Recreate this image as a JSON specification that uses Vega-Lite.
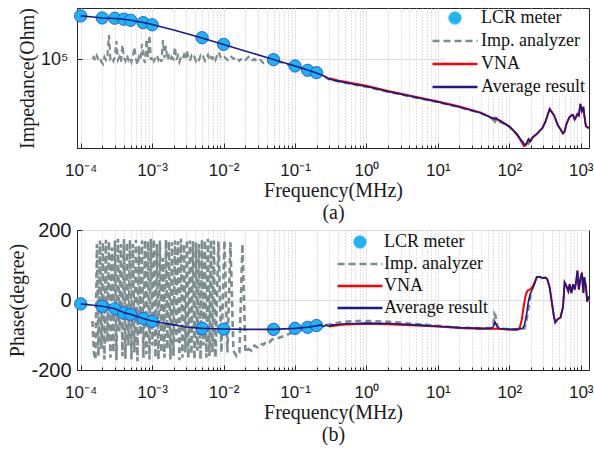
{
  "$schema": "https://vega.github.io/schema/vega-lite/v6.json",
  "padding": {"left": 7, "top": 6, "right": 0, "bottom": 0},
  "background": "white",
  "config": {
    "view": {"stroke": "#262626", "strokeWidth": 1},
    "axis": {"domainColor": "#262626", "labelColor": "#1a1a1a", "titleColor": "#1a1a1a", "labelFont": "Liberation Sans", "titleFont": "Liberation Serif", "titleFontWeight": "normal", "titleFontSize": 20}
  },
  "datasets": {
    "lcr": [
      {"f": 0.0001, "z": 271000, "p": -11},
      {"f": 0.0002, "z": 258500, "p": -18},
      {"f": 0.0003, "z": 257000, "p": -25},
      {"f": 0.0004, "z": 251000, "p": -37},
      {"f": 0.0005, "z": 245000, "p": -41},
      {"f": 0.00075, "z": 232000, "p": -53},
      {"f": 0.001, "z": 221000, "p": -61},
      {"f": 0.005, "z": 164000, "p": -81},
      {"f": 0.01, "z": 141000, "p": -83},
      {"f": 0.05, "z": 99000, "p": -84},
      {"f": 0.1, "z": 85700, "p": -81},
      {"f": 0.15, "z": 77600, "p": -78},
      {"f": 0.2, "z": 73500, "p": -73}
    ],
    "impz": [
      {"f": 0.0001459, "z": 100700}, {"f": 0.0001531, "z": 105400}, {"f": 0.0001607, "z": 96200}, {"f": 0.0001687, "z": 107900},
      {"f": 0.000177, "z": 98400}, {"f": 0.0001858, "z": 103000}, {"f": 0.000195, "z": 94000}, {"f": 0.0002047, "z": 89800},
      {"f": 0.0002148, "z": 105400}, {"f": 0.0002254, "z": 98400}, {"f": 0.0002366, "z": 107900}, {"f": 0.0002483, "z": 174800},
      {"f": 0.0002606, "z": 100700}, {"f": 0.0002735, "z": 105400}, {"f": 0.0002871, "z": 96200}, {"f": 0.0003013, "z": 107900},
      {"f": 0.0003162, "z": 152300}, {"f": 0.0003319, "z": 98400}, {"f": 0.0003483, "z": 105400}, {"f": 0.0003656, "z": 94000},
      {"f": 0.0003837, "z": 138900}, {"f": 0.0004027, "z": 103000}, {"f": 0.0004227, "z": 96200}, {"f": 0.0004436, "z": 110400},
      {"f": 0.0004656, "z": 98400}, {"f": 0.0004887, "z": 105400}, {"f": 0.0005129, "z": 94000}, {"f": 0.0005383, "z": 107900},
      {"f": 0.0005649, "z": 132700}, {"f": 0.0005929, "z": 100700}, {"f": 0.0006223, "z": 87700}, {"f": 0.0006531, "z": 105400},
      {"f": 0.0006855, "z": 98400}, {"f": 0.0007194, "z": 142100}, {"f": 0.0007551, "z": 103000}, {"f": 0.0007925, "z": 91800},
      {"f": 0.0008318, "z": 159500}, {"f": 0.000873, "z": 105400}, {"f": 0.0009162, "z": 174800}, {"f": 0.0009616, "z": 98400},
      {"f": 0.001009, "z": 107900}, {"f": 0.001059, "z": 96200}, {"f": 0.001112, "z": 103000}, {"f": 0.001167, "z": 110400},
      {"f": 0.001225, "z": 98400}, {"f": 0.001285, "z": 105400}, {"f": 0.001349, "z": 94000}, {"f": 0.001416, "z": 155800},
      {"f": 0.001486, "z": 103000}, {"f": 0.00156, "z": 135800}, {"f": 0.001637, "z": 98400}, {"f": 0.001718, "z": 107900},
      {"f": 0.001803, "z": 96200}, {"f": 0.001892, "z": 105400}, {"f": 0.001986, "z": 100700}, {"f": 0.002085, "z": 132700},
      {"f": 0.002188, "z": 98400}, {"f": 0.002296, "z": 107900}, {"f": 0.00241, "z": 94000}, {"f": 0.002529, "z": 105400},
      {"f": 0.002655, "z": 100700}, {"f": 0.002786, "z": 110400}, {"f": 0.002924, "z": 98400}, {"f": 0.003069, "z": 123900},
      {"f": 0.003221, "z": 103000}, {"f": 0.003381, "z": 96200}, {"f": 0.003548, "z": 107900}, {"f": 0.003724, "z": 100700},
      {"f": 0.003908, "z": 105400}, {"f": 0.004102, "z": 96200}, {"f": 0.004305, "z": 103000}, {"f": 0.004518, "z": 98400},
      {"f": 0.004742, "z": 107900}, {"f": 0.004977, "z": 100700}, {"f": 0.005224, "z": 105400}, {"f": 0.005483, "z": 96200},
      {"f": 0.005754, "z": 103000}, {"f": 0.006039, "z": 110400}, {"f": 0.006339, "z": 98400}, {"f": 0.006653, "z": 105400},
      {"f": 0.006982, "z": 100700}, {"f": 0.007328, "z": 107900}, {"f": 0.007691, "z": 98400},
      {"f": 0.008472, "z": 118300}, {"f": 0.009333, "z": 100700}, {"f": 0.01028, "z": 105400}, {"f": 0.01132, "z": 98400},
      {"f": 0.01247, "z": 107900}, {"f": 0.01374, "z": 100700}, {"f": 0.01514, "z": 105400}, {"f": 0.01667, "z": 96200},
      {"f": 0.01837, "z": 103000}, {"f": 0.02023, "z": 98400}, {"f": 0.02228, "z": 105400}, {"f": 0.02455, "z": 96200},
      {"f": 0.02704, "z": 100700}, {"f": 0.02979, "z": 94000}, {"f": 0.03281, "z": 98400}, {"f": 0.03614, "z": 91800},
      {"f": 0.03981, "z": 96200}, {"f": 0.04385, "z": 94000}, {"f": 0.04831, "z": 96200},
      {"f": 0.06, "z": 94000}, {"f": 0.08, "z": 88500}, {"f": 0.1, "z": 84500}, {"f": 0.13, "z": 80000},
      {"f": 0.15, "z": 77000}, {"f": 0.2, "z": 72200}, {"f": 0.25, "z": 67500}, {"f": 0.3, "z": 63000},
      {"f": 0.4, "z": 60000}, {"f": 0.5, "z": 58000}, {"f": 0.7, "z": 55500}, {"f": 1, "z": 53000},
      {"f": 2, "z": 47300}, {"f": 5, "z": 41200}, {"f": 10, "z": 37200}, {"f": 20, "z": 33100},
      {"f": 40, "z": 28900}, {"f": 55, "z": 26100}, {"f": 60, "z": 24500}, {"f": 62, "z": 27000},
      {"f": 64, "z": 24000}, {"f": 66, "z": 25000}, {"f": 70, "z": 24200}, {"f": 100, "z": 21200},
      {"f": 127, "z": 17800}, {"f": 150, "z": 15300}, {"f": 164, "z": 13800}, {"f": 175, "z": 13600},
      {"f": 185, "z": 14200}, {"f": 195, "z": 15000}, {"f": 205, "z": 16000}
    ],
    "impp": [
      {"f": 0.0001459, "p": -60}, {"f": 0.0001531, "p": -150}, {"f": 0.0001607, "p": -170}, {"f": 0.0001687, "p": 160},
      {"f": 0.000177, "p": -160}, {"f": 0.0001858, "p": 170}, {"f": 0.000195, "p": -140}, {"f": 0.0002047, "p": 165},
      {"f": 0.0002148, "p": -170}, {"f": 0.0002254, "p": 172}, {"f": 0.0002366, "p": -120}, {"f": 0.0002483, "p": 168},
      {"f": 0.0002606, "p": -165}, {"f": 0.0002735, "p": 150}, {"f": 0.0002871, "p": -150}, {"f": 0.0003013, "p": 170},
      {"f": 0.0003162, "p": -172}, {"f": 0.0003319, "p": 175}, {"f": 0.0003483, "p": -90}, {"f": 0.0003656, "p": 160},
      {"f": 0.0003837, "p": -160}, {"f": 0.0004027, "p": 174}, {"f": 0.0004227, "p": -168}, {"f": 0.0004436, "p": 165},
      {"f": 0.0004656, "p": -130}, {"f": 0.0004887, "p": 172}, {"f": 0.0005129, "p": -170}, {"f": 0.0005383, "p": 160},
      {"f": 0.0005649, "p": -150}, {"f": 0.0005929, "p": 172}, {"f": 0.0006223, "p": -175}, {"f": 0.0006531, "p": 155},
      {"f": 0.0006855, "p": -100}, {"f": 0.0007194, "p": 170}, {"f": 0.0007551, "p": -165}, {"f": 0.0007925, "p": 172},
      {"f": 0.0008318, "p": -155}, {"f": 0.000873, "p": 168}, {"f": 0.0009162, "p": -170}, {"f": 0.0009616, "p": 175},
      {"f": 0.001009, "p": -130}, {"f": 0.001059, "p": 174}, {"f": 0.001112, "p": -165}, {"f": 0.001167, "p": 160},
      {"f": 0.001225, "p": -170}, {"f": 0.001285, "p": 170}, {"f": 0.001349, "p": -150}, {"f": 0.001416, "p": 120},
      {"f": 0.001486, "p": -165}, {"f": 0.00156, "p": 172}, {"f": 0.001637, "p": -140}, {"f": 0.001718, "p": 168},
      {"f": 0.001803, "p": -170}, {"f": 0.001892, "p": 165}, {"f": 0.001986, "p": -160}, {"f": 0.002085, "p": 170},
      {"f": 0.002188, "p": -120}, {"f": 0.002296, "p": 168}, {"f": 0.00241, "p": -172}, {"f": 0.002529, "p": 175},
      {"f": 0.002655, "p": -165}, {"f": 0.002786, "p": 160}, {"f": 0.002924, "p": -150}, {"f": 0.003069, "p": 172},
      {"f": 0.003221, "p": -165}, {"f": 0.003381, "p": 170}, {"f": 0.003548, "p": -155}, {"f": 0.003724, "p": 168},
      {"f": 0.003908, "p": -170}, {"f": 0.004102, "p": 165}, {"f": 0.004305, "p": -145}, {"f": 0.004518, "p": 160},
      {"f": 0.004742, "p": -170}, {"f": 0.004977, "p": 172}, {"f": 0.005224, "p": -130}, {"f": 0.005483, "p": 170},
      {"f": 0.005754, "p": -165}, {"f": 0.006039, "p": 175}, {"f": 0.006339, "p": -160}, {"f": 0.006653, "p": 172},
      {"f": 0.006982, "p": -150}, {"f": 0.007328, "p": 170}, {"f": 0.007691, "p": -165},
      {"f": 0.008472, "p": 168}, {"f": 0.009333, "p": -150}, {"f": 0.01028, "p": 170}, {"f": 0.01132, "p": -150},
      {"f": 0.01247, "p": 165}, {"f": 0.01374, "p": -145}, {"f": 0.01514, "p": -160}, {"f": 0.01667, "p": -150},
      {"f": 0.01837, "p": 160}, {"f": 0.02023, "p": -150}, {"f": 0.02228, "p": -140}, {"f": 0.02455, "p": -145},
      {"f": 0.02704, "p": -130}, {"f": 0.02979, "p": -135}, {"f": 0.03281, "p": -125}, {"f": 0.03614, "p": -128},
      {"f": 0.03981, "p": -118}, {"f": 0.04385, "p": -120}, {"f": 0.04831, "p": -112},
      {"f": 0.06, "p": -108}, {"f": 0.08, "p": -98}, {"f": 0.1, "p": -90}, {"f": 0.13, "p": -84},
      {"f": 0.15, "p": -80}, {"f": 0.2, "p": -76}, {"f": 0.25, "p": -72}, {"f": 0.3, "p": -70},
      {"f": 0.4, "p": -65}, {"f": 0.5, "p": -62}, {"f": 0.7, "p": -60}, {"f": 1, "p": -60},
      {"f": 2, "p": -62}, {"f": 5, "p": -69}, {"f": 10, "p": -74}, {"f": 20, "p": -79},
      {"f": 40, "p": -81}, {"f": 55, "p": -80}, {"f": 60, "p": -70}, {"f": 62, "p": -40},
      {"f": 64, "p": -45}, {"f": 66, "p": -65}, {"f": 70, "p": -81}, {"f": 100, "p": -84},
      {"f": 127, "p": -84}, {"f": 150, "p": -84}, {"f": 164, "p": -80}, {"f": 175, "p": -55},
      {"f": 185, "p": -25}, {"f": 195, "p": 5}, {"f": 205, "p": 25}
    ],
    "vna": [
      {"f": 0.3, "z": 64800, "p": -76},
      {"f": 0.4, "z": 61500, "p": -72},
      {"f": 0.5, "z": 59600, "p": -70},
      {"f": 0.7, "z": 56900, "p": -69},
      {"f": 1, "z": 54300, "p": -68},
      {"f": 2, "z": 48300, "p": -69},
      {"f": 5, "z": 42000, "p": -73},
      {"f": 10, "z": 37900, "p": -76},
      {"f": 20, "z": 33700, "p": -80},
      {"f": 40, "z": 29300, "p": -82},
      {"f": 55, "z": 26300, "p": -82},
      {"f": 62, "z": 25500, "p": -82},
      {"f": 70, "z": 24800, "p": -82},
      {"f": 100, "z": 21400, "p": -84},
      {"f": 127, "z": 17900, "p": -84},
      {"f": 140, "z": 16000, "p": -80},
      {"f": 150, "z": 14800, "p": -55},
      {"f": 160, "z": 13600, "p": -15},
      {"f": 170, "z": 13800, "p": 15},
      {"f": 180, "z": 14800, "p": 27},
      {"f": 190, "z": 15800, "p": 28},
      {"f": 200, "z": 15300, "p": 32},
      {"f": 215, "z": 16700, "p": 40},
      {"f": 243, "z": 17950, "p": 66},
      {"f": 267, "z": 19300, "p": 66},
      {"f": 290, "z": 20500, "p": 63},
      {"f": 320, "z": 23650, "p": 64},
      {"f": 340, "z": 27000, "p": 60},
      {"f": 368, "z": 31900, "p": 35},
      {"f": 390, "z": 30000, "p": 0},
      {"f": 420, "z": 27800, "p": -45},
      {"f": 440, "z": 25800, "p": -64},
      {"f": 476, "z": 22080, "p": -55},
      {"f": 520, "z": 20000, "p": -50},
      {"f": 565, "z": 18160, "p": -20},
      {"f": 595, "z": 19000, "p": 50},
      {"f": 630, "z": 22500, "p": 40},
      {"f": 670, "z": 25000, "p": 25},
      {"f": 700, "z": 26530, "p": 45},
      {"f": 740, "z": 27500, "p": 20},
      {"f": 780, "z": 27790, "p": 45},
      {"f": 823, "z": 25050, "p": 30},
      {"f": 860, "z": 26500, "p": 50},
      {"f": 900, "z": 28430, "p": 84},
      {"f": 940, "z": 27470, "p": 30},
      {"f": 990, "z": 35780, "p": 60},
      {"f": 1040, "z": 30460, "p": 78},
      {"f": 1090, "z": 33400, "p": 20},
      {"f": 1120, "z": 28000, "p": 65},
      {"f": 1180, "z": 21580, "p": 40},
      {"f": 1230, "z": 21000, "p": -5},
      {"f": 1300, "z": 20600, "p": 10}
    ],
    "avg": [
      {"f": 0.0001, "z": 271000, "p": -11},
      {"f": 0.00015, "z": 264500, "p": -15},
      {"f": 0.0002, "z": 258500, "p": -18},
      {"f": 0.0003, "z": 255500, "p": -25},
      {"f": 0.0004, "z": 250800, "p": -36},
      {"f": 0.0005, "z": 245200, "p": -41},
      {"f": 0.00075, "z": 233100, "p": -53},
      {"f": 0.001, "z": 222600, "p": -60},
      {"f": 0.002, "z": 196200, "p": -71},
      {"f": 0.003, "z": 181000, "p": -77},
      {"f": 0.005, "z": 163200, "p": -81},
      {"f": 0.01, "z": 140500, "p": -83},
      {"f": 0.02, "z": 121000, "p": -84},
      {"f": 0.05, "z": 99500, "p": -84},
      {"f": 0.1, "z": 85700, "p": -81},
      {"f": 0.15, "z": 78200, "p": -78},
      {"f": 0.2, "z": 73000, "p": -74},
      {"f": 0.23, "z": 70000, "p": -71},
      {"f": 0.25, "z": 68500, "p": -76},
      {"f": 0.27, "z": 67000, "p": -72},
      {"f": 0.3, "z": 63600, "p": -75},
      {"f": 0.33, "z": 62500, "p": -71},
      {"f": 0.4, "z": 60500, "p": -70},
      {"f": 0.5, "z": 58700, "p": -68},
      {"f": 0.7, "z": 56000, "p": -67},
      {"f": 1, "z": 53500, "p": -66},
      {"f": 2, "z": 47700, "p": -67},
      {"f": 5, "z": 41550, "p": -71},
      {"f": 10, "z": 37470, "p": -75},
      {"f": 20, "z": 33400, "p": -79},
      {"f": 40, "z": 29100, "p": -81},
      {"f": 55, "z": 26230, "p": -81},
      {"f": 60, "z": 25600, "p": -76},
      {"f": 63, "z": 25340, "p": -63},
      {"f": 66, "z": 25930, "p": -72},
      {"f": 70, "z": 24900, "p": -80},
      {"f": 74, "z": 24480, "p": -82},
      {"f": 100, "z": 21320, "p": -84},
      {"f": 127, "z": 18070, "p": -84},
      {"f": 145, "z": 15820, "p": -83},
      {"f": 155, "z": 14800, "p": -80},
      {"f": 164, "z": 13940, "p": -70},
      {"f": 175, "z": 14590, "p": -40},
      {"f": 185, "z": 16000, "p": -5},
      {"f": 195, "z": 15100, "p": 15},
      {"f": 210, "z": 16560, "p": 30},
      {"f": 225, "z": 17300, "p": 45},
      {"f": 243, "z": 17950, "p": 66},
      {"f": 267, "z": 19300, "p": 66},
      {"f": 290, "z": 20500, "p": 63},
      {"f": 320, "z": 23650, "p": 64},
      {"f": 340, "z": 27000, "p": 60},
      {"f": 368, "z": 31900, "p": 35},
      {"f": 390, "z": 30000, "p": 0},
      {"f": 420, "z": 27800, "p": -45},
      {"f": 440, "z": 25800, "p": -64},
      {"f": 476, "z": 22080, "p": -55},
      {"f": 520, "z": 20000, "p": -50},
      {"f": 565, "z": 18160, "p": -20},
      {"f": 595, "z": 19000, "p": 50},
      {"f": 630, "z": 22500, "p": 40},
      {"f": 670, "z": 25000, "p": 25},
      {"f": 700, "z": 26530, "p": 45},
      {"f": 740, "z": 27500, "p": 20},
      {"f": 780, "z": 27790, "p": 45},
      {"f": 823, "z": 25050, "p": 30},
      {"f": 860, "z": 26500, "p": 50},
      {"f": 900, "z": 28430, "p": 84},
      {"f": 940, "z": 27470, "p": 30},
      {"f": 990, "z": 35780, "p": 60},
      {"f": 1040, "z": 30460, "p": 78},
      {"f": 1090, "z": 33400, "p": 20},
      {"f": 1120, "z": 28000, "p": 65},
      {"f": 1180, "z": 21580, "p": 40},
      {"f": 1230, "z": 21000, "p": -5},
      {"f": 1300, "z": 20600, "p": 10}
    ]
  },
  "spacing": -4,
  "resolve": {"scale": {"color": "independent"}, "legend": {"color": "independent"}},
  "vconcat": [
    {
      "width": 512,
      "height": 140,
      "layer": [
        {
          "data": {"name": "impz"},
          "mark": {"type": "line", "strokeDash": [6, 4], "strokeWidth": 2.2, "clip": true},
          "encoding": {
            "x": {"field": "f", "type": "quantitative", "scale": {"type": "log", "domain": [0.0000887, 1306], "nice": false},
              "axis": {
                "values": [0.0001,0.0002,0.0003,0.0004,0.0005,0.0006,0.0007,0.0008,0.0009,0.001,0.002,0.003,0.004,0.005,0.006,0.007,0.008,0.009,0.01,0.02,0.03,0.04,0.05,0.06,0.07,0.08,0.09,0.1,0.2,0.3,0.4,0.5,0.6,0.7,0.8,0.9,1,2,3,4,5,6,7,8,9,10,20,30,40,50,60,70,80,90,100,200,300,400,500,600,700,800,900,1000],
                "labelExpr": "datum.value == 0.0001 ? '10⁻⁴' : datum.value == 0.001 ? '10⁻³' : datum.value == 0.01 ? '10⁻²' : datum.value == 0.1 ? '10⁻¹' : datum.value == 1 ? '10⁰' : datum.value == 10 ? '10¹' : datum.value == 100 ? '10²' : datum.value == 1000 ? '10³' : ''",
                "labelOverlap": false, "labelBound": false, "labelFlush": false,
                "labelFontSize": 17, "labelPadding": 19,
                "title": ["Frequency(MHz)", "(a)"], "titleLineHeight": 22, "titlePadding": 0,
                "grid": true,
                "gridColor": {"condition": {"test": "indexof([0.0001,0.001,0.01,0.1,1,10,100,1000], datum.value) >= 0", "value": "#dcdcdc"}, "value": "#c4c4c4"},
                "gridDash": {"condition": {"test": "indexof([0.0001,0.001,0.01,0.1,1,10,100,1000], datum.value) >= 0", "value": [1, 0]}, "value": [1, 2]},
                "tickColor": "#262626",
                "tickSize": {"condition": {"test": "indexof([0.0001,0.001,0.01,0.1,1,10,100,1000], datum.value) >= 0", "value": -5}, "value": -3}
              }},
            "y": {"field": "z", "type": "quantitative", "scale": {"type": "log", "domain": [13000, 325000], "nice": false},
              "axis": {"values": [100000], "labelExpr": "'10⁵'", "labelFontSize": 18, "labelPadding": 14, "title": "Impedance(Ohm)", "titlePadding": 3, "grid": true, "gridColor": "#dcdcdc", "tickSize": -5, "tickColor": "#262626"}},
            "color": {"datum": "Imp. analyzer", "type": "nominal",
              "scale": {"domain": ["LCR meter", "Imp. analyzer", "VNA", "Average result"], "range": ["#1db4f0", "#7d8c8c", "#ff0000", "#1a1a8c"]},
              "legend": {
                "orient": "none", "legendX": 369, "legendY": 1, "title": null, "padding": 0,
                "fillColor": "white", "symbolSize": 2025, "symbolType": "M-1,0H1",
                "labelFont": "Liberation Serif", "labelFontSize": 18, "labelColor": "#111111", "labelOffset": 17, "rowPadding": 5,
                "encode": {"symbols": {"update": {
                  "shape": {"signal": "datum.value === 'LCR meter' ? 'circle' : 'M-1,0H1'"},
                  "size": {"signal": "datum.value === 'LCR meter' ? 150 : 2025"},
                  "fill": {"signal": "datum.value === 'LCR meter' ? '#1db4f0' : 'transparent'"},
                  "stroke": {"signal": "datum.value === 'LCR meter' ? '#1f5fe8' : datum.value === 'Imp. analyzer' ? '#7d8c8c' : datum.value === 'VNA' ? '#ff0000' : '#1a1a8c'"},
                  "strokeWidth": {"signal": "datum.value === 'LCR meter' ? 1 : 2.5"},
                  "strokeDash": {"signal": "datum.value === 'Imp. analyzer' ? [7, 4] : [1, 0]"},
                  "opacity": {"value": 1}
                }}}
              }}
          }
        },
        {
          "data": {"name": "vna"},
          "mark": {"type": "line", "strokeWidth": 2, "clip": true},
          "encoding": {
            "x": {"field": "f", "type": "quantitative"},
            "y": {"field": "z", "type": "quantitative"},
            "color": {"datum": "VNA", "type": "nominal"}
          }
        },
        {
          "data": {"name": "lcr"},
          "mark": {"type": "point", "filled": true, "size": 150, "stroke": "#1f5fe8", "strokeWidth": 1, "opacity": 1},
          "encoding": {
            "x": {"field": "f", "type": "quantitative"},
            "y": {"field": "z", "type": "quantitative"},
            "color": {"datum": "LCR meter", "type": "nominal"}
          }
        },
        {
          "data": {"name": "avg"},
          "mark": {"type": "line", "strokeWidth": 1.6, "clip": true},
          "encoding": {
            "x": {"field": "f", "type": "quantitative"},
            "y": {"field": "z", "type": "quantitative"},
            "color": {"datum": "Average result", "type": "nominal"}
          }
        }
      ]
    },
    {
      "width": 512,
      "height": 140,
      "layer": [
        {
          "data": {"name": "impp"},
          "mark": {"type": "line", "strokeDash": [6, 4], "strokeWidth": 2.6, "clip": true},
          "encoding": {
            "x": {"field": "f", "type": "quantitative", "scale": {"type": "log", "domain": [0.0000887, 1306], "nice": false},
              "axis": {
                "values": [0.0001,0.0002,0.0003,0.0004,0.0005,0.0006,0.0007,0.0008,0.0009,0.001,0.002,0.003,0.004,0.005,0.006,0.007,0.008,0.009,0.01,0.02,0.03,0.04,0.05,0.06,0.07,0.08,0.09,0.1,0.2,0.3,0.4,0.5,0.6,0.7,0.8,0.9,1,2,3,4,5,6,7,8,9,10,20,30,40,50,60,70,80,90,100,200,300,400,500,600,700,800,900,1000],
                "labelExpr": "datum.value == 0.0001 ? '10⁻⁴' : datum.value == 0.001 ? '10⁻³' : datum.value == 0.01 ? '10⁻²' : datum.value == 0.1 ? '10⁻¹' : datum.value == 1 ? '10⁰' : datum.value == 10 ? '10¹' : datum.value == 100 ? '10²' : datum.value == 1000 ? '10³' : ''",
                "labelOverlap": false, "labelBound": false, "labelFlush": false,
                "labelFontSize": 17, "labelPadding": 19,
                "title": ["Frequency(MHz)", "(b)"], "titleLineHeight": 22, "titlePadding": 0,
                "grid": true,
                "gridColor": {"condition": {"test": "indexof([0.0001,0.001,0.01,0.1,1,10,100,1000], datum.value) >= 0", "value": "#dcdcdc"}, "value": "#c4c4c4"},
                "gridDash": {"condition": {"test": "indexof([0.0001,0.001,0.01,0.1,1,10,100,1000], datum.value) >= 0", "value": [1, 0]}, "value": [1, 2]},
                "tickColor": "#262626",
                "tickSize": {"condition": {"test": "indexof([0.0001,0.001,0.01,0.1,1,10,100,1000], datum.value) >= 0", "value": -5}, "value": -3}
              }},
            "y": {"field": "p", "type": "quantitative", "scale": {"domain": [-200, 200], "nice": false},
              "axis": {"values": [-200, 0, 200], "labelExpr": "'' + datum.value", "labelFontSize": 20, "labelPadding": 11, "title": "Phase(degree)", "titlePadding": 3, "grid": true, "gridColor": "#dcdcdc", "tickSize": -5, "tickColor": "#262626"}},
            "color": {"datum": "Imp. analyzer", "type": "nominal",
              "scale": {"domain": ["LCR meter", "Imp. analyzer", "VNA", "Average result"], "range": ["#1db4f0", "#7d8c8c", "#ff0000", "#1a1a8c"]},
              "legend": {
                "orient": "none", "legendX": 274, "legendY": 3, "title": null, "padding": 0,
                "symbolSize": 2025, "symbolType": "M-1,0H1",
                "labelFont": "Liberation Serif", "labelFontSize": 18, "labelColor": "#111111", "labelOffset": 15, "rowPadding": 4,
                "encode": {"symbols": {"update": {
                  "shape": {"signal": "datum.value === 'LCR meter' ? 'circle' : 'M-1,0H1'"},
                  "size": {"signal": "datum.value === 'LCR meter' ? 150 : 2025"},
                  "fill": {"signal": "datum.value === 'LCR meter' ? '#1db4f0' : 'transparent'"},
                  "stroke": {"signal": "datum.value === 'LCR meter' ? '#1f5fe8' : datum.value === 'Imp. analyzer' ? '#7d8c8c' : datum.value === 'VNA' ? '#ff0000' : '#1a1a8c'"},
                  "strokeWidth": {"signal": "datum.value === 'LCR meter' ? 1 : 2.5"},
                  "strokeDash": {"signal": "datum.value === 'Imp. analyzer' ? [7, 4] : [1, 0]"},
                  "opacity": {"value": 1}
                }}}
              }}
          }
        },
        {
          "data": {"name": "vna"},
          "mark": {"type": "line", "strokeWidth": 2, "clip": true},
          "encoding": {
            "x": {"field": "f", "type": "quantitative"},
            "y": {"field": "p", "type": "quantitative"},
            "color": {"datum": "VNA", "type": "nominal"}
          }
        },
        {
          "data": {"name": "lcr"},
          "mark": {"type": "point", "filled": true, "size": 150, "stroke": "#1f5fe8", "strokeWidth": 1, "opacity": 1},
          "encoding": {
            "x": {"field": "f", "type": "quantitative"},
            "y": {"field": "p", "type": "quantitative"},
            "color": {"datum": "LCR meter", "type": "nominal"}
          }
        },
        {
          "data": {"name": "avg"},
          "mark": {"type": "line", "strokeWidth": 1.6, "clip": true},
          "encoding": {
            "x": {"field": "f", "type": "quantitative"},
            "y": {"field": "p", "type": "quantitative"},
            "color": {"datum": "Average result", "type": "nominal"}
          }
        }
      ]
    }
  ]
}
